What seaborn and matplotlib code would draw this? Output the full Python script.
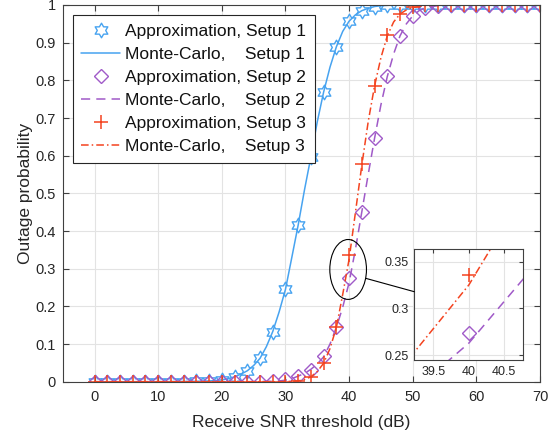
import matplotlib
matplotlib.use("Agg")
import matplotlib.pyplot as plt
import seaborn as sns
from matplotlib.path import Path
from matplotlib.patches import Ellipse, ConnectionPatch
from matplotlib.ticker import FuncFormatter

# ---------------- data ----------------
snr_approx = [0, 2, 4, 6, 8, 10, 12, 14, 16, 18, 20, 22, 24, 26, 28, 30, 32, 34,
              36, 38, 40, 42, 44, 46, 48, 50, 52, 54, 56, 58, 60, 62, 64, 66, 68, 70]
approx_setup1 = [0, 0, 0, 0, 0, 0, 0, 0, 0.001, 0.002, 0.005, 0.013, 0.029, 0.062,
                 0.133, 0.245, 0.416, 0.597, 0.769, 0.889, 0.957, 0.985, 0.996, 0.999,
                 1, 1, 1, 1, 1, 1, 1, 1, 1, 1, 1, 1]
approx_setup2 = [0, 0, 0, 0, 0, 0, 0, 0, 0, 0, 0, 0, 0, 0, 0.002, 0.006, 0.016, 0.03,
                 0.068, 0.145, 0.274, 0.451, 0.646, 0.812, 0.918, 0.971, 0.992, 0.998,
                 1, 1, 1, 1, 1, 1, 1, 1]
approx_setup3 = [0, 0, 0, 0, 0, 0, 0, 0, 0, 0, 0, 0, 0, 0, 0, 0, 0.002, 0.013,
                 0.049, 0.144, 0.336, 0.577, 0.785, 0.92, 0.977, 0.994, 0.999, 1,
                 1, 1, 1, 1, 1, 1, 1, 1]

snr_mc = [0, 10, 16, 17, 18, 19, 20, 21, 22, 23, 24, 25, 26, 27, 28, 29, 30, 31, 32,
          33, 34, 35, 36, 37, 38, 39, 40, 41, 42, 43, 44, 45, 46, 47, 48, 49, 50, 51,
          52, 53, 54, 55, 56, 60, 70]
mc_setup1 = [0, 0, 0.001, 0.0015, 0.002, 0.003, 0.005, 0.008, 0.013, 0.02, 0.029, 0.043,
             0.062, 0.093, 0.133, 0.185, 0.245, 0.33, 0.416, 0.51, 0.597, 0.69, 0.769,
             0.835, 0.889, 0.93, 0.957, 0.974, 0.985, 0.991, 0.996, 0.998, 0.999, 1,
             1, 1, 1, 1, 1, 1, 1, 1, 1, 1, 1]
mc_setup2 = [0, 0, 0, 0, 0, 0, 0, 0, 0, 0, 0, 0, 0, 0.001, 0.001, 0.002, 0.004, 0.008,
             0.015, 0.022, 0.033, 0.047, 0.066, 0.1, 0.144, 0.198, 0.263, 0.352, 0.451,
             0.55, 0.646, 0.735, 0.81, 0.87, 0.918, 0.95, 0.971, 0.985, 0.993, 0.996,
             0.998, 0.999, 1, 1, 1]
mc_setup3 = [0, 0, 0, 0, 0, 0, 0, 0, 0, 0, 0, 0, 0, 0, 0, 0, 0.0005, 0.001, 0.002,
             0.006, 0.013, 0.027, 0.049, 0.088, 0.144, 0.232, 0.325, 0.45, 0.575, 0.69,
             0.785, 0.86, 0.918, 0.955, 0.976, 0.987, 0.993, 0.996, 0.998, 0.999, 1, 1,
             1, 1, 1]

labels = ["Approximation, Setup 1", "Monte-Carlo,    Setup 1",
          "Approximation, Setup 2", "Monte-Carlo,    Setup 2",
          "Approximation, Setup 3", "Monte-Carlo,    Setup 3"]
x_ticks = [0, 10, 20, 30, 40, 50, 60, 70]
y_ticks = [0, 0.1, 0.2, 0.3, 0.4, 0.5, 0.6, 0.7, 0.8, 0.9, 1]
inset_x_ticks = [39.5, 40, 40.5]
inset_y_ticks = [0.25, 0.3, 0.35]

# ---------------- style ----------------
sns.set_theme(style="whitegrid")
plt.rcParams["font.family"] = ["Liberation Sans", "DejaVu Sans"]

c_blue = "#47A3F0"
c_purple = "#A05AC8"
c_red = "#F4431F"
spine_c = "#404040"
grid_c = "#E3E3E3"

hexagram = Path.unit_regular_star(6, innerCircle=0.577)


def draw_all(target, with_labels):
    lines = []
    specs = [
        (snr_approx, approx_setup1, dict(color=c_blue, linestyle="none", marker=hexagram,
                                          markersize=10.5, markerfacecolor="none",
                                          markeredgecolor=c_blue, markeredgewidth=1.0)),
        (snr_mc, mc_setup1, dict(color=c_blue, linestyle="-", linewidth=1.1)),
        (snr_approx, approx_setup2, dict(color=c_purple, linestyle="none", marker="D",
                                          markersize=7.5, markerfacecolor="none",
                                          markeredgecolor=c_purple, markeredgewidth=1.0)),
        (snr_mc, mc_setup2, dict(color=c_purple, linestyle=(0, (6, 4)), linewidth=1.1)),
        (snr_approx, approx_setup3, dict(color=c_red, linestyle="none", marker="+",
                                          markersize=10.5, markeredgecolor=c_red,
                                          markeredgewidth=1.1)),
        (snr_mc, mc_setup3, dict(color=c_red, linestyle=(0, (5, 2, 1, 2)), linewidth=1.1)),
    ]
    for (xs, ys, kw), lab in zip(specs, labels):
        n_before = len(target.get_lines())
        sns.lineplot(x=xs, y=ys, ax=target, legend=False, sort=False,
                     estimator=None, **kw)
        ln = target.get_lines()[n_before]
        if with_labels:
            ln.set_label(lab)
        lines.append(ln)
    return lines


fig = plt.figure(figsize=(5.57, 4.38), dpi=100)
ax = fig.add_axes([0.1126, 0.1285, 0.8569, 0.8601])
handles = draw_all(ax, True)

ax.set_xlim(-5, 70)
ax.set_ylim(0, 1)
ax.set_xticks(x_ticks)
ax.set_yticks(y_ticks)
fmt = FuncFormatter(lambda v, p: "%g" % v)
ax.xaxis.set_major_formatter(fmt)
ax.yaxis.set_major_formatter(fmt)
ax.grid(True, color=grid_c, linewidth=0.8)
ax.set_axisbelow(True)
for s in ax.spines.values():
    s.set_visible(True)
    s.set_color(spine_c)
    s.set_linewidth(0.8)
ax.tick_params(axis="both", which="major", direction="in", length=4, width=0.8,
               color=spine_c, labelcolor="#262626", labelsize=10.5,
               top=True, right=True, bottom=True, left=True)
ax.tick_params(axis="x", pad=6)
ax.tick_params(axis="y", pad=5)
ax.set_xlabel("Receive SNR threshold (dB)", fontsize=12.5, color="#262626", labelpad=8)
ax.set_ylabel("Outage probability", fontsize=12.5, color="#262626", labelpad=2)

leg = ax.legend(handles=handles, labels=labels, loc="upper left",
                bbox_to_anchor=(0.021, 0.973), borderaxespad=0, fontsize=12.5,
                frameon=True, fancybox=False, framealpha=1, edgecolor="#262626",
                handlelength=2.25, handletextpad=0.25, labelspacing=0.45,
                borderpad=0.5)
leg.get_frame().set_linewidth(0.8)
for t in leg.get_texts():
    t.set_color("#111111")

# ellipse and connector
ell = Ellipse((39.85, 0.298), 5.76, 0.159, facecolor="none", edgecolor="black",
              linewidth=0.8, zorder=10)
ax.add_patch(ell)

# inset
ax_in = fig.add_axes([0.7438, 0.1781, 0.1946, 0.2527])
draw_all(ax_in, False)
ax_in.set_xlim(39.23, 40.76)
ax_in.set_ylim(0.245, 0.363)
ax_in.set_xticks(inset_x_ticks)
ax_in.set_yticks(inset_y_ticks)
ax_in.xaxis.set_major_formatter(fmt)
ax_in.yaxis.set_major_formatter(fmt)
ax_in.grid(True, color=grid_c, linewidth=0.8)
ax_in.set_axisbelow(True)
ax_in.set_facecolor("white")
ax_in.set_xlabel("")
ax_in.set_ylabel("")
for s in ax_in.spines.values():
    s.set_visible(True)
    s.set_color(spine_c)
    s.set_linewidth(0.8)
ax_in.tick_params(axis="both", direction="in", length=3, width=0.8, color=spine_c,
                  labelcolor="#262626", labelsize=9, top=True, right=True, pad=4)

con = ConnectionPatch(xyA=(42.6, 0.2745), coordsA=ax.transData,
                      xyB=(0, 0.617), coordsB=ax_in.transAxes,
                      color="black", linewidth=0.8)
fig.add_artist(con)

fig.savefig("out.png", dpi=100)
